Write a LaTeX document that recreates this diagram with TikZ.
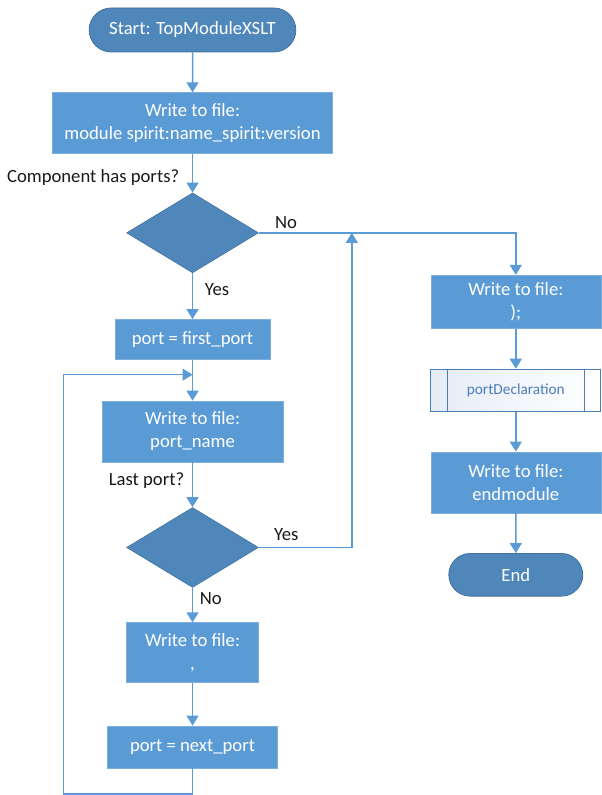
\documentclass[tikz,border=0pt]{standalone}
\usepackage{fontspec}
\setmainfont{Carlito}
\usetikzlibrary{arrows.meta}
\usetikzlibrary{positioning}
\usetikzlibrary{shapes.misc}
\usetikzlibrary{shapes.geometric}

\definecolor{boxblue}{HTML}{5B9BD5}
\definecolor{darkblue}{HTML}{4F87BA}
\definecolor{edgeblue}{HTML}{41719C}
\definecolor{procblue}{HTML}{4A7EBB}
\definecolor{procbg}{HTML}{E6ECF5}

\tikzset {
  % connectors
  flow/.style = {
    draw = boxblue,
    line width = 1.1pt,
    -{Triangle[width=9pt,length=7.5pt]}
  },
  link/.style = {
    draw = boxblue,
    line width = 1.1pt
  }
}
\tikzset {
  chart node/.style = {
    text = white,
    inner sep = 0,
    align = center,
    font = \fontsize{14pt}{17.25pt}\selectfont
  },
  % process step
  box/.style = {
    chart node,
    rectangle,
    fill = boxblue,
    draw = boxblue!80!white,
    line width = 0.4pt
  },
  % start / end
  term/.style = {
    chart node,
    rounded rectangle,
    fill = darkblue,
    draw = edgeblue,
    line width = 0.6pt
  },
  % decision
  decision/.style = {
    diamond,
    fill = darkblue,
    draw = edgeblue,
    line width = 0.4pt,
    inner sep = 0,
    minimum width = 99pt,
    minimum height = 60pt
  },
  % predefined process
  subproc/.style = {
    rectangle,
    draw = procblue,
    line width = 0.6pt,
    left color = procbg,
    right color = white,
    text = procblue,
    font = \fontsize{11.5pt}{13pt}\selectfont,
    minimum width = 127.5pt,
    minimum height = 31.5pt
  },
  % branch labels
  lbl/.style = {
    inner sep = 0,
    text = black!90,
    font = \fontsize{14pt}{16pt}\selectfont
  }
}

\begin{document}
\begin{tikzpicture}
    \useasboundingbox (0,0) rectangle (451.5pt,-596.25pt);

    \node[term, minimum width=155pt, minimum height=33pt] (start) at (144.4pt,-22.5pt) {Start: TopModuleXSLT};
    \node[box, minimum width=210pt, minimum height=45.75pt] (wmodule) [below=30pt of start] {Write to file:\\module spirit:name\_spirit:version};
    \node[decision] (hasports) [below=29pt of wmodule] {};
    \node[box, minimum width=116pt, minimum height=30pt] (firstport) [below=34.5pt of hasports] {port = first\_port};
    \node[box, minimum width=136pt, minimum height=45.75pt] (wname) [below=30.75pt of firstport] {Write to file:\\port\_name};
    \node[decision] (lastport) [below=33.75pt of wname] {};
    \node[box, minimum width=99pt, minimum height=45pt] (wcomma) [below=26pt of lastport] {Write to file:\\,};
    \node[box, minimum width=127.5pt, minimum height=31.5pt] (nextport) [below=32pt of wcomma] {port = next\_port};

    % right column
    \node[box, minimum width=127.5pt, minimum height=40pt, anchor=north] (wclose) at ([xshift=192.75pt,yshift=-31.5pt]hasports.east) {Write to file:\\);};
    \node[subproc] (portdecl) [below=30pt of wclose] {portDeclaration};
    \node[box, minimum width=127.5pt, minimum height=45.75pt] (wend) [below=30pt of portdecl] {Write to file:\\endmodule};
    \node[term, minimum width=100.5pt, minimum height=32pt] (stop) [below=30pt of wend] {End};

    \draw[procblue, line width=0.6pt] ([xshift=12.4pt]portdecl.north west) -- ([xshift=12.4pt]portdecl.south west);
    \draw[procblue, line width=0.6pt] ([xshift=-12.4pt]portdecl.north east) -- ([xshift=-12.4pt]portdecl.south east);

    % labels
    \node[lbl, anchor=east] (qports) at ([xshift=-9.75pt,yshift=11.25pt]hasports.north) {Component has ports?};
    \node[lbl, anchor=west] (noports) at ([xshift=12pt,yshift=7.5pt]hasports.east) {No};
    \node[lbl, anchor=west] (yesports) at ([xshift=9pt,yshift=-12pt]hasports.south) {Yes};
    \node[lbl, anchor=east] (qlast) at ([xshift=-6pt,yshift=-13.5pt]wname.south) {Last port?};
    \node[lbl, anchor=west] (yeslast) at ([xshift=11.25pt,yshift=9.75pt]lastport.east) {Yes};
    \node[lbl, anchor=west] (nolast) at ([xshift=5.25pt,yshift=-8.25pt]lastport.south) {No};

    % helper points
    \path ([xshift=69.75pt]lastport.east) coordinate (aux);
    \coordinate (merge) at (aux |- hasports.east);
    \coordinate (loopin) at ([yshift=19.5pt]wname.north);

    \draw[flow] (start) -- (wmodule);
    \draw[flow] (wmodule) -- (hasports);
    \draw[flow] (hasports.east) -| (wclose.north);
    \draw[flow] (hasports) -- (firstport);
    \draw[flow] (firstport) -- (wname);
    \draw[flow] (wname) -- (lastport);
    \draw[flow] (lastport.east) -| (merge);
    \draw[flow] (lastport) -- (wcomma);
    \draw[flow] (wcomma) -- (nextport);
    \draw[flow] (nextport.south) -- ++(0,-19.5pt) -- ++(-96.75pt,0) |- (loopin);
    \draw[flow] (wclose) -- (portdecl);
    \draw[flow] (portdecl) -- (wend);
    \draw[flow] (wend) -- (stop);
  \end{tikzpicture}
\end{document}
